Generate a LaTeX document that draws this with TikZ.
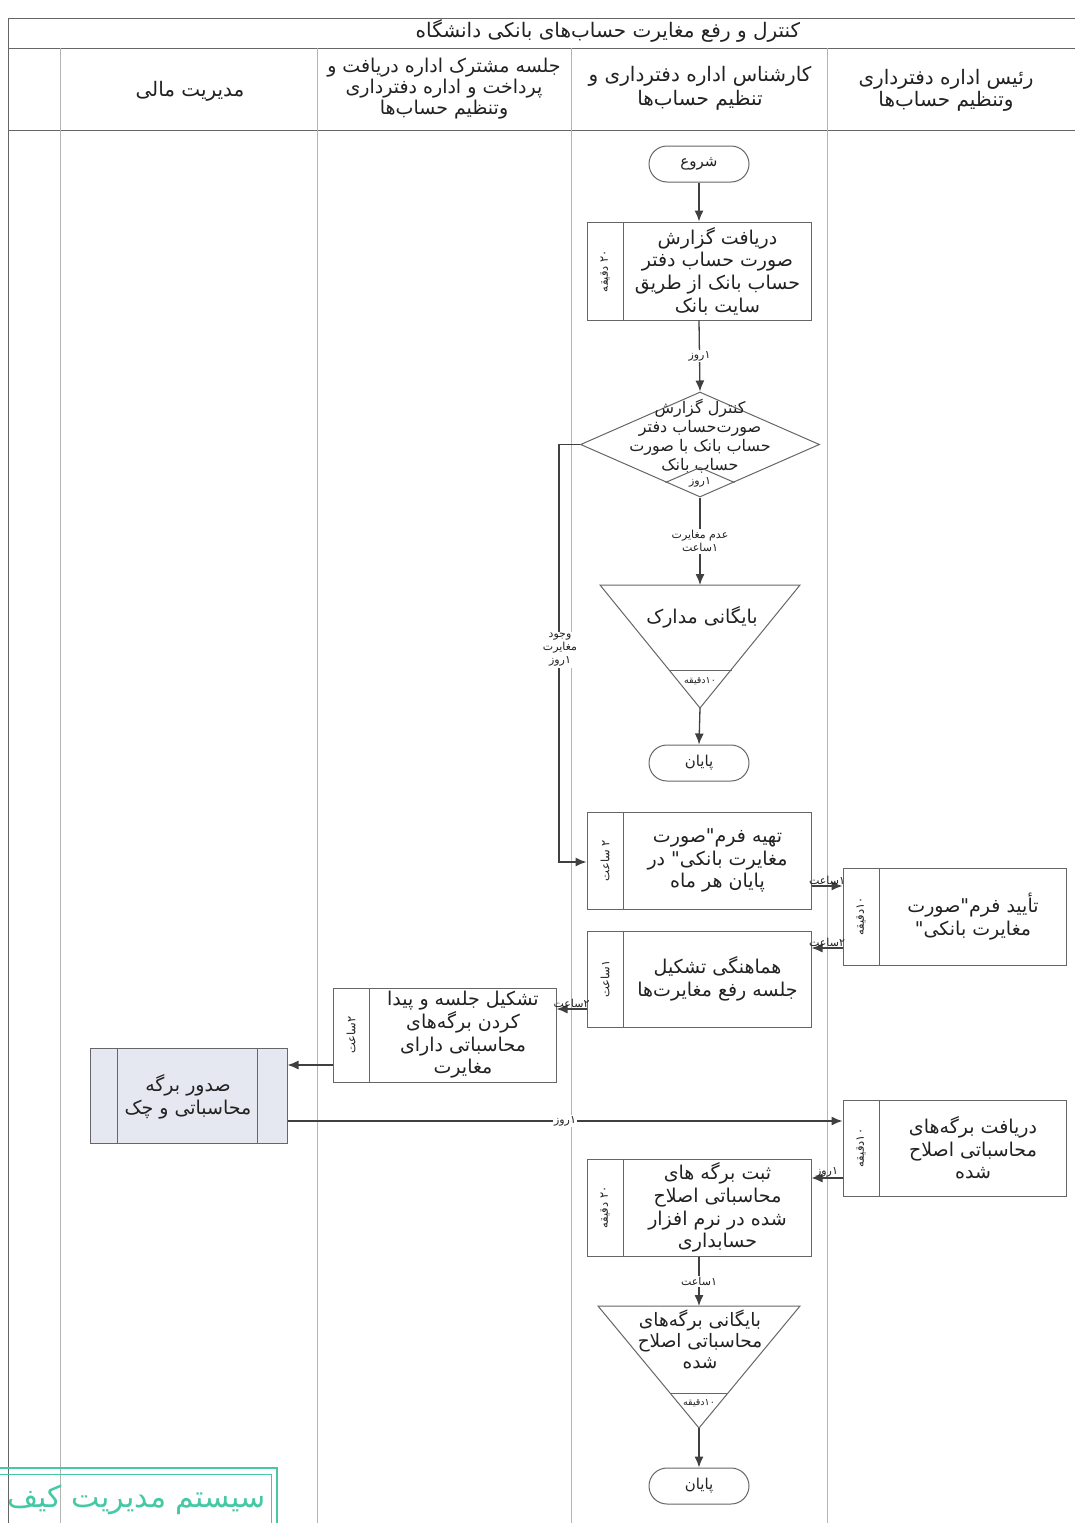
\documentclass[tikz,border=0pt]{standalone}
\usepackage{fontspec}
\setmainfont{DejaVu Sans}
\newfontfamily\fa[Script=Arabic]{DejaVu Sans}
\TeXXeTstate=1
\usetikzlibrary{arrows.meta,calc,shapes.geometric}
\newcommand{\fl}[1]{\beginR #1\endR}
\definecolor{ink}{HTML}{222222}
\definecolor{boxc}{HTML}{666666}
\definecolor{lanec}{HTML}{B4B4B4}
\definecolor{arrc}{HTML}{404040}
\definecolor{pdfill}{HTML}{E6E8F1}
\definecolor{stampc}{HTML}{45C9A5}
\tikzset{
  lane/.style={draw=lanec, line width=0.7pt},
  frame/.style={draw=boxc, line width=0.9pt},
  boxline/.style={draw=boxc, line width=1pt},
  pbox/.style={draw=boxc, line width=1pt, inner sep=0pt},
  term/.style={draw=boxc, line width=1pt, rounded corners=18pt, minimum width=100pt, minimum height=36pt, inner sep=0pt, text=ink, font=\fa\fontsize{15}{18}\selectfont},
  btext/.style={align=center, text=ink, inner sep=0pt, font=\fa\fontsize{19}{22.7}\selectfont},
  htext/.style={align=center, text=ink, inner sep=0pt, font=\fa\fontsize{20}{22}\selectfont},
  striptext/.style={rotate=90, text=ink, inner sep=0pt, font=\fa\fontsize{11.5}{13}\selectfont},
  flow/.style={draw=arrc, line width=1.3pt, -{Latex[length=11pt,width=9pt]}},
  lbl/.style={text=ink, font=\fa\fontsize{11}{13}\selectfont, fill=white, inner sep=1.5pt, align=center},
  lblup/.style={text=ink, font=\fa\fontsize{11}{13}\selectfont, inner sep=0.5pt, above},
}
\newcommand{\procnode}[7]{%
  \node[pbox, minimum width=#4pt, minimum height=#5pt] (#1) at (#2,#3) {};
  \draw[boxline] ($(#1.north west)+(37,0)$) -- ($(#1.south west)+(37,0)$);
  \node[striptext] at ($(#1.west)+(18.5,0)$) {#6};
  \node[btext] at ($(#1.center)+(18.5,0)$) {#7};
}
\begin{document}
\begin{tikzpicture}[x=1pt,y=-1pt]
\useasboundingbox[fill=white] (0,0) rectangle (1074,1523);
% frame and lanes
\draw[frame] (1080,18) -- (8,18) -- (8,1530);
\draw[frame] (8,48) -- (1080,48);
\draw[frame] (8,130) -- (1080,130);
\foreach \xx in {60,317,571,827} \draw[lane] (\xx,48) -- (\xx,1530);
% title & headers
\node[htext, font=\fa\fontsize{20}{24}\selectfont] (title) at (608,31) {\fl{کنترل و رفع مغایرت حساب‌های بانکی دانشگاه}};
\node[htext, font=\fa\fontsize{20}{22}\selectfont] (h4) at (946,90) {\fl{رئیس اداره دفترداری}\\\fl{وتنظیم حساب‌ها}};
\node[htext, font=\fa\fontsize{20}{24}\selectfont] (h3) at (700,88) {\fl{کارشناس اداره دفترداری و}\\\fl{تنظیم حساب‌ها}};
\node[htext, font=\fa\fontsize{19}{21}\selectfont] (h2) at (444,89) {\fl{جلسه مشترک اداره دریافت و}\\\fl{پرداخت و اداره دفترداری}\\\fl{وتنظیم حساب‌ها}};
\node[htext] (h1) at (190,91) {\fl{مدیریت مالی}};
% start
\node[term] (s1) at (699,164) {\fl{شروع}};
\procnode{b1}{699}{271}{224}{98}{\fl{۲۰ دقیقه}}{\fl{دریافت گزارش}\\\fl{صورت حساب دفتر}\\\fl{حساب بانک از طریق}\\\fl{سایت بانک}}
% decision
\node[diamond, draw=boxc, line width=1pt, minimum width=239pt, minimum height=105pt, inner sep=0pt] (d1) at (700,444.5) {};
\node[btext, font=\fa\fontsize{16}{19}\selectfont] (d1t) at (700,436) {\fl{کنترل گزارش}\\\fl{صورت‌حساب دفتر}\\\fl{حساب بانک با صورت}\\\fl{حساب بانک}};
\draw[boxline] ($(d1.south)+(-34.5,-15)$) -- ($(d1.south)+(0,-30)$) -- ($(d1.south)+(34.5,-15)$);
\node[lbl, fill=none] (d1l) at (700,482) {\fl{۱روز}};
% triangle 1
\coordinate (t1a) at (600,585);
\coordinate (t1b) at (800,585);
\coordinate (t1c) at (700,708);
\coordinate (t1top) at (700,585);
\draw[boxline] (t1a) -- (t1b) -- (t1c) -- cycle;
\draw[boxline] (668.5,670) -- (731.5,670);
\node[btext] (t1t) at (702,617) {\fl{بایگانی مدارک}};
\node[lbl, fill=none, font=\fa\fontsize{9.5}{11}\selectfont] (t1l) at (700,681) {\fl{۱۰دقیقه}};
\node[term] (e1) at (699,763) {\fl{پایان}};
% process boxes
\procnode{b2}{699}{860.5}{224}{97}{\fl{۲ ساعت}}{\fl{تهیه فرم"صورت}\\\fl{مغایرت بانکی" در}\\\fl{پایان هر ماه}}
\procnode{b3}{954.5}{916.5}{223}{97}{\fl{۱۰دقیقه}}{\fl{تأیید فرم"صورت}\\\fl{مغایرت بانکی"}}
\procnode{b4}{699}{979}{224}{96}{\fl{۱ساعت}}{\fl{هماهنگی تشکیل}\\\fl{جلسه رفع مغایرت‌ها}}
\procnode{b5}{444.5}{1035}{223}{94}{\fl{۲ساعت}}{\fl{تشکیل جلسه و پیدا}\\\fl{کردن برگه‌های}\\\fl{محاسباتی دارای}\\\fl{مغایرت}}
% predefined process
\node[pbox, fill=pdfill, minimum width=197pt, minimum height=95pt] (b6) at (188.5,1095.5) {};
\draw[boxline] ($(b6.north west)+(28,0)$) -- ($(b6.south west)+(28,0)$);
\draw[boxline] ($(b6.north east)+(-30,0)$) -- ($(b6.south east)+(-30,0)$);
\node[btext] (b6t) at (188,1097) {\fl{صدور برگه}\\\fl{محاسباتی و چک}};
\procnode{b7}{954.5}{1148}{223}{96}{\fl{۱۰دقیقه}}{\fl{دریافت برگه‌های}\\\fl{محاسباتی اصلاح}\\\fl{شده}}
\procnode{b8}{699}{1207.5}{224}{97}{\fl{۲۰ دقیقه}}{\fl{ثبت برگه های}\\\fl{محاسباتی اصلاح}\\\fl{شده در نرم افزار}\\\fl{حسابداری}}
% triangle 2
\coordinate (t2a) at (598,1306);
\coordinate (t2b) at (800,1306);
\coordinate (t2c) at (699,1428);
\coordinate (t2top) at (699,1306);
\draw[boxline] (t2a) -- (t2b) -- (t2c) -- cycle;
\draw[boxline] (670,1393) -- (728,1393);
\node[btext, font=\fa\fontsize{18.5}{21}\selectfont] (t2t) at (700,1339) {\fl{بایگانی برگه‌های}\\\fl{محاسباتی اصلاح}\\\fl{شده}};
\node[lbl, fill=none, font=\fa\fontsize{9.5}{11}\selectfont] (t2l) at (699,1403) {\fl{۱۰دقیقه}};
\node[term] (e2) at (699,1486) {\fl{پایان}};
% connectors
\draw[flow] (s1.south) -- (b1.north);
\draw[flow] (b1.south) -- node[lbl] {\fl{۱روز}} (d1.north);
\draw[flow] (d1.south) -- node[lbl] {\fl{عدم مغایرت}\\\fl{۱ساعت}} (t1top);
\draw[flow] (t1c) -- (e1.north);
\coordinate (k1) at (559,444.5);
\draw[flow] (d1.west) -- (k1) |- ($(b2.west)+(0,1.5)$);
\node[lbl] (l1) at (560,650) {\fl{وجود}\\\fl{مغایرت}\\\fl{۱روز}};
\coordinate (y1) at (0,886);
\coordinate (y2) at (0,948);
\coordinate (y3) at (0,1009);
\coordinate (y4) at (0,1065);
\coordinate (y5) at (0,1121);
\coordinate (y6) at (0,1178);
\draw[flow] (b2.east |- y1) -- node[lblup] {\fl{۱ساعت}} (b3.west |- y1);
\draw[flow] (b3.west |- y2) -- node[lblup] {\fl{۲ساعت}} (b4.east |- y2);
\draw[flow] (b4.west |- y3) -- node[lblup] {\fl{۲ساعت}} (b5.east |- y3);
\draw[flow] (b5.west |- y4) -- (b6.east |- y4);
\draw[flow] (b6.east |- y5) -- node[lbl, pos=0.5] {\fl{۱روز}} (b7.west |- y5);
\draw[flow] (b7.west |- y6) -- node[lblup] {\fl{۱روز}} (b8.east |- y6);
\draw[flow] (b8.south) -- node[lbl] {\fl{۱ساعت}} (t2top);
\draw[flow] (t2c) -- (e2.north);
% stamp
\begin{scope}
\clip (0,0) rectangle (1074,1523);
\draw[stampc, line width=1.3pt] (-10,1468) -- (277,1468) -- (277,1530);
\draw[stampc, line width=0.9pt] (-10,1474) -- (271,1474) -- (271,1530);
\node[anchor=east, text=stampc, inner sep=0pt, font=\fa\fontsize{30}{34}\selectfont] (stamp) at (266,1500) {\fl{سیستم مدیریت کیف}};
\end{scope}
\end{tikzpicture}
\end{document}
